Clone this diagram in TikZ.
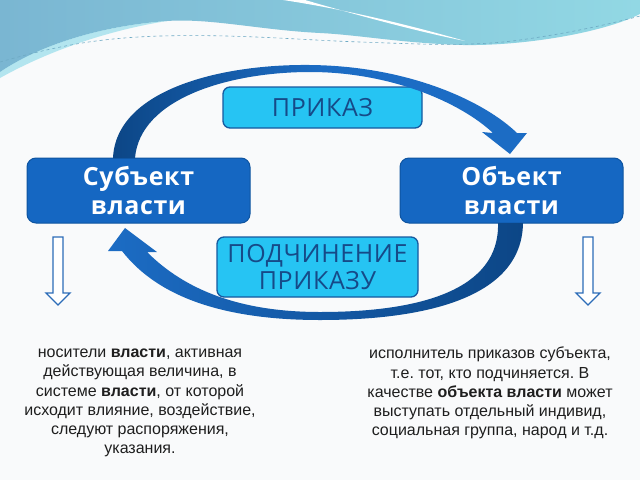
\documentclass[tikz,border=0pt]{standalone}
\usepackage{fontspec}
\setmainfont{Liberation Sans}
\newfontfamily\boxfont{Open Sans}[LetterSpace=2.5]
\frenchspacing
\definecolor{darkbox}{RGB}{21,103,194}
\definecolor{darkboxline}{RGB}{14,84,160}
\definecolor{lightbox}{RGB}{38,196,243}
\definecolor{lightboxline}{RGB}{22,90,160}
\definecolor{lighttext}{RGB}{22,74,136}
\definecolor{arcdark}{RGB}{12,70,134}
\definecolor{arclight}{RGB}{28,108,196}
\definecolor{hollow}{RGB}{44,108,184}
\definecolor{bg}{RGB}{249,250,251}
\definecolor{waveA}{RGB}{122,182,210}
\definecolor{waveB}{RGB}{146,216,228}
\definecolor{waveC}{RGB}{110,210,228}
\definecolor{dashc}{RGB}{110,170,196}
\definecolor{bodyc}{RGB}{30,30,30}
\begin{document}
\begin{tikzpicture}[x=1pt,y=-1pt,
  darkstyle/.style={draw=darkboxline, line width=1pt, fill=darkbox, rounded corners=9pt,
    text=white, align=center, inner sep=0pt,
    font=\boxfont\bfseries\fontsize{25}{28.5}\selectfont},
  lightstyle/.style={draw=lightboxline, line width=1.3pt, fill=lightbox, rounded corners=7pt,
    text=lighttext, align=center, inner sep=0pt,
    font=\boxfont\fontsize{25}{27.5}\selectfont},
  bodytext/.style={align=center, inner sep=0pt, text=bodyc,
    font=\fontsize{16}{19.2}\selectfont},
  hollowarrow/.style={draw=hollow, line width=1.3pt, fill=white, line join=miter}
]
\useasboundingbox (0,0) rectangle (640,480);
\fill[bg] (0,0) rectangle (640,480);
% top wave
\shade[left color=waveA, right color=waveB]
  (0,0) -- (640,0) -- (640,14) .. controls (600,34) and (520,46) .. (463,45)
  .. controls (400,43) and (360,35) .. (320,33)
  .. controls (260,30) and (210,18) .. (167,21)
  .. controls (100,26) and (40,45) .. (0,72) -- cycle;
\fill[waveC, opacity=0.5]
  (0,72) .. controls (40,45) and (100,26) .. (167,21)
  .. controls (110,30) and (50,50) .. (0,78) -- cycle;
\fill[white]
  (283,0) .. controls (350,10) and (420,28) .. (465,41)
  .. controls (420,32) and (360,16) .. (305,0) -- cycle;
\draw[dashc, dashed, line width=0.6pt]
  (0,62) .. controls (60,45) and (100,38) .. (160,36)
  .. controls (240,34) and (300,40) .. (360,42)
  .. controls (420,44) and (470,47) .. (520,40)
  .. controls (570,33) and (610,24) .. (640,16);
% boxes
\node[lightstyle, minimum width=199pt, minimum height=41pt] (prikaz) at (322.5,107.5) {ПРИКАЗ};
\node[darkstyle, minimum width=223pt, minimum height=65pt] (subj) at (138.5,190.5) {Субъект\\власти};
\node[darkstyle, minimum width=223pt, minimum height=65pt] (obj) at (511.5,190.5) {Объект\\власти};
\node[lightstyle, minimum width=201pt, minimum height=60pt] (podch) at (317.5,267) {ПОДЧИНЕНИЕ\\ПРИКАЗУ};
% top arc arrow
\shade[left color=arcdark, right color=arclight, middle color=arclight]
  (113,158) .. controls (116,90) and (220,64) .. (310,65)
  .. controls (410,66) and (485,102) .. (517,133)
  -- (527,133) -- (510,154) -- (482,132) -- (493,133)
  .. controls (460,102) and (390,72) .. (310,72)
  .. controls (230,72) and (140,98) .. (135,158) -- cycle;
% bottom arc arrow
\shade[left color=arclight, middle color=arclight, right color=arcdark]
  (523,223) .. controls (522,300) and (420,320) .. (320,320)
  .. controls (230,320) and (160,300) .. (122,251)
  -- (108,251) -- (125,228) -- (157,252) -- (147,252)
  .. controls (185,290) and (240,312) .. (320,312)
  .. controls (420,312) and (500,290) .. (498,223) -- cycle;
% hollow arrows
\draw[hollowarrow] (53,237) -- (63,237) -- (63,293) -- (70,293) -- (58,305) -- (46,293) -- (53,293) -- cycle;
\draw[hollowarrow] (583,237) -- (593,237) -- (593,293) -- (600,293) -- (588,305) -- (576,293) -- (583,293) -- cycle;
% body texts
\node[bodytext] (ltext) at (140,403) {носители \textbf{власти}, активная\\действующая величина, в\\системе \textbf{власти}, от которой\\исходит влияние, воздействие,\\следуют распоряжения,\\указания.};
\node[bodytext] (rtext) at (490,393) {исполнитель приказов субъекта,\\т.е. тот, кто подчиняется. В\\качестве \textbf{объекта власти} может\\выступать отдельный индивид,\\социальная группа, народ и т.д.};
\end{tikzpicture}
\end{document}
